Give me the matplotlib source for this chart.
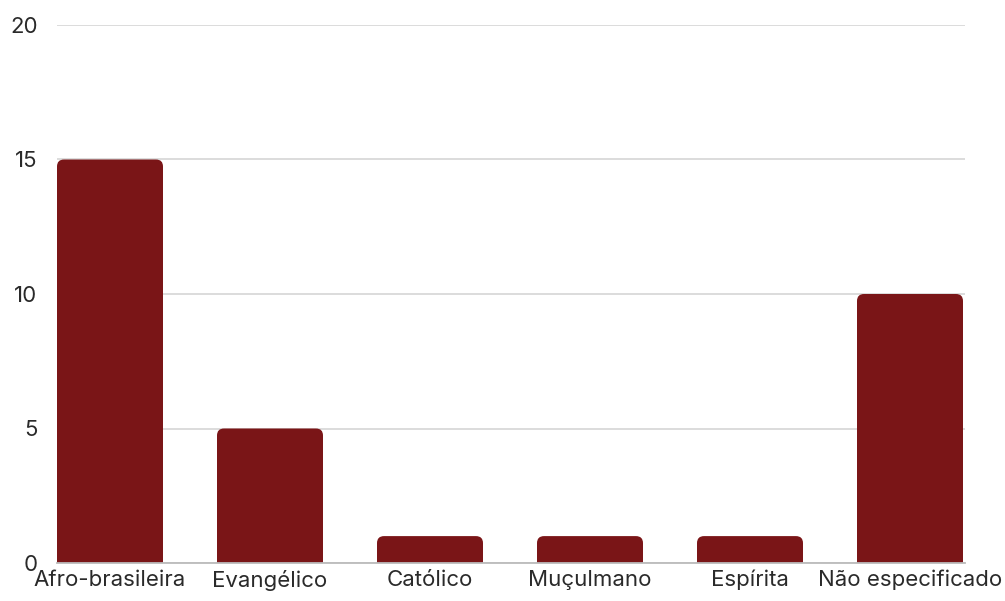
import numpy as np
import matplotlib
matplotlib.use("Agg")
import matplotlib.pyplot as plt
from matplotlib.patches import FancyBboxPatch

plt.rcParams["font.family"] = ["Inter", "DejaVu Sans"]

categories = ["Afro-brasileira", "Evangélico", "Católico", "Muçulmano", "Espírita", "Não especificado"]
values = [15, 5, 1, 1, 1, 10]
yticks = [0, 5, 10, 15, 20]

bar_color = "#7a1517"
grid_color = "#d9d9d9"
text_color = "#2a2a2a"

fig = plt.figure(figsize=(10.05, 6.01), dpi=100)
ax = fig.add_axes([57 / 1005, 38 / 601, 908 / 1005, 538 / 601])

x = np.arange(len(categories))
ax.set_xlim(-0.33125, 5.34375)
ax.set_ylim(0, 20)

width = 106 / 160
# data units per pixel, used to keep the corner rounding circular
xu = 1 / 160
yu = 20 / 538
for xi, v in zip(x, values):
    p = FancyBboxPatch((xi - width / 2, -1), width, v + 1,
                       boxstyle="round,pad=0,rounding_size=%f" % (7 * xu),
                       mutation_aspect=yu / xu,
                       facecolor=bar_color, edgecolor="none", zorder=3)
    ax.add_patch(p)

ax.set_yticks(yticks)
ax.yaxis.grid(True, color=grid_color, linewidth=1.3, zorder=0)
ax.set_axisbelow(True)
for s in ["top", "right", "left"]:
    ax.spines[s].set_visible(False)
ax.spines["bottom"].set_color("#bbbbbb")
ax.spines["bottom"].set_linewidth(1.3)
ax.spines["bottom"].set_zorder(4)

ax.set_xticks(x)
ax.set_xticklabels(categories)
ax.tick_params(axis="both", length=0, labelsize=16, labelcolor=text_color)
ax.tick_params(axis="y", pad=14)
ax.tick_params(axis="x", pad=5)

fig.savefig("out.png", dpi=100)
